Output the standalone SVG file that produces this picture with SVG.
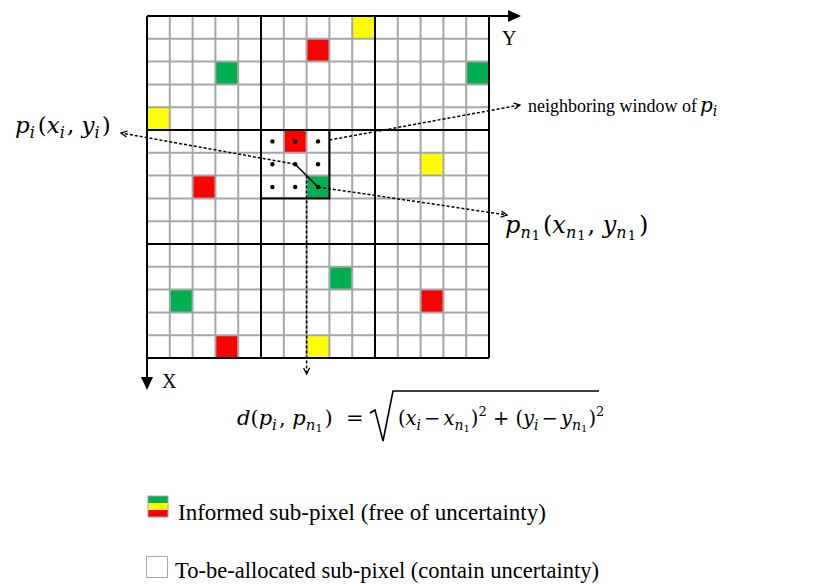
<svg xmlns="http://www.w3.org/2000/svg" width="820" height="584" viewBox="0 0 820 584">
<defs>
<style>
.gl{stroke:#a6a6a6;stroke-width:2;fill:none}
.bl{stroke:#000;stroke-width:2;fill:none}
.r{fill:#ff0000}.g{fill:#00b050}.y{fill:#ffff00}
.dash{stroke:#000;stroke-width:1.5;stroke-dasharray:3 2;fill:none}
.t{font-family:"Liberation Serif","Times New Roman",serif;fill:#000}
.m{font-family:"DejaVu Serif","Liberation Serif",serif;fill:#000}
.i{font-style:italic}
.dot{fill:#000}
</style>
<marker id="oa" viewBox="0 0 8 8" refX="7" refY="4" markerWidth="8" markerHeight="8" markerUnits="userSpaceOnUse" orient="auto"><path d="M1,1 L7,4 L1,7" fill="none" stroke="#000" stroke-width="1.3"/></marker>
</defs>
<rect width="820" height="584" fill="#fff"/>
<g id="cells">
<rect class="r" x="306.6" y="38.8" width="22.8" height="22.8"/>
<rect class="r" x="283.8" y="130" width="22.8" height="22.8"/>
<rect class="r" x="192.6" y="175.6" width="22.8" height="22.8"/>
<rect class="r" x="420.6" y="289.6" width="22.8" height="22.8"/>
<rect class="r" x="215.4" y="335.2" width="22.8" height="22.8"/>
<rect class="g" x="215.4" y="61.6" width="22.8" height="22.8"/>
<rect class="g" x="466.2" y="61.6" width="22.8" height="22.8"/>
<rect class="g" x="306.6" y="175.6" width="22.8" height="22.8"/>
<rect class="g" x="169.8" y="289.6" width="22.8" height="22.8"/>
<rect class="g" x="329.4" y="266.8" width="22.8" height="22.8"/>
<rect class="y" x="147" y="107.2" width="22.8" height="22.8"/>
<rect class="y" x="352.2" y="16" width="22.8" height="22.8"/>
<rect class="y" x="420.6" y="152.8" width="22.8" height="22.8"/>
<rect class="y" x="306.6" y="335.2" width="22.8" height="22.8"/>
</g>
<g id="grid">
<path class="gl" d="M169.8,16V358M192.6,16V358M215.4,16V358M238.2,16V358M283.8,16V358M306.6,16V358M329.4,16V358M352.2,16V358M397.8,16V358M420.6,16V358M443.4,16V358M466.2,16V358M147,38.8H489M147,61.6H489M147,84.4H489M147,107.2H489M147,152.8H489M147,175.6H489M147,198.4H489M147,221.2H489M147,266.8H489M147,289.6H489M147,312.4H489M147,335.2H489"/>
<path class="bl" d="M261,16V358M375,16V358M489,16V358M147,130H489M147,244H489M147,358H489"/>
</g>
<g id="axes">
<path class="bl" d="M147,16H510M147,16V378"/>
<polygon points="508,10 521,16 508,22" fill="#000"/>
<polygon points="141,377 147,390 153,377" fill="#000"/>
<text class="t" x="502" y="45" font-size="20">Y</text>
<text class="t" x="162" y="388" font-size="20">X</text>
</g>
<g id="window">
<rect class="bl" x="261" y="130" width="68.4" height="68.4"/>
<circle class="dot" cx="272.4" cy="141.4" r="2.2"/><circle class="dot" cx="295.2" cy="141.4" r="2.2"/><circle class="dot" cx="318" cy="141.4" r="2.2"/>
<circle class="dot" cx="272.4" cy="164.2" r="2.2"/><circle class="dot" cx="295.2" cy="164.2" r="2.2"/><circle class="dot" cx="318" cy="164.2" r="2.2"/>
<circle class="dot" cx="272.4" cy="187" r="2.2"/><circle class="dot" cx="295.2" cy="187" r="2.2"/><circle class="dot" cx="318" cy="187" r="2.2"/>
</g>
<g id="connectors">
<path d="M295.2,164.2L318,187" stroke="#000" stroke-width="1.5"/>
<path class="dash" d="M295.2,164.2L121,133" marker-end="url(#oa)"/>
<path class="dash" d="M329.4,140L520,105" marker-end="url(#oa)"/>
<path class="dash" d="M318,187L507,215" marker-end="url(#oa)"/>
<path class="dash" d="M306.6,175.6V374" marker-end="url(#oa)"/>
</g>
<g id="label-pi">
<text class="m" x="15" y="133" font-size="23"><tspan class="i">p</tspan><tspan class="i" font-size="16" dy="5">i</tspan><tspan dy="-5" dx="3">(</tspan><tspan class="i">x</tspan><tspan class="i" font-size="16" dy="5">i</tspan><tspan dy="-5" dx="2">, </tspan><tspan class="i">y</tspan><tspan class="i" font-size="16" dy="5">i</tspan><tspan dy="-5" dx="2">)</tspan></text>
</g>
<g id="label-window">
<text class="t" x="528" y="112" font-size="18">neighboring window of</text>
<text class="m" x="700" y="112" font-size="20"><tspan class="i">p</tspan><tspan class="i" font-size="14" dy="4">i</tspan></text>
</g>
<g id="label-pn1">
<text class="m" x="505" y="233" font-size="24"><tspan class="i">p</tspan><tspan class="i" font-size="16" dy="5">n</tspan><tspan font-size="13" dy="2" dx="1">1</tspan><tspan dy="-7" dx="3">(</tspan><tspan class="i">x</tspan><tspan class="i" font-size="16" dy="5">n</tspan><tspan font-size="13" dy="2" dx="1">1</tspan><tspan dy="-7" dx="2">, </tspan><tspan class="i">y</tspan><tspan class="i" font-size="16" dy="5">n</tspan><tspan font-size="13" dy="2" dx="1">1</tspan><tspan dy="-7" dx="3">)</tspan></text>
</g>
<g id="formula">
<text class="m" x="237" y="425" font-size="21"><tspan class="i">d</tspan>(<tspan class="i">p</tspan><tspan class="i" font-size="15" dy="5">i</tspan><tspan dy="-5" dx="2">, </tspan><tspan class="i">p</tspan><tspan class="i" font-size="15" dy="5">n</tspan><tspan font-size="11" dy="2">1</tspan><tspan dy="-7" dx="2">)</tspan><tspan x="346">=</tspan></text>
<path d="M370,413 L375,410 L383,441 L393,391 H599" fill="none" stroke="#000" stroke-width="1.6"/>
<text class="m" x="398" y="425" font-size="19.5">(<tspan class="i">x</tspan><tspan class="i" font-size="14" dy="5">i</tspan><tspan dy="-5" dx="3">−</tspan><tspan class="i" dx="3">x</tspan><tspan class="i" font-size="14" dy="5">n</tspan><tspan font-size="10" dy="2">1</tspan><tspan dy="-7" dx="1">)</tspan><tspan font-size="13" dy="-9">2</tspan><tspan dy="9"> + (</tspan><tspan class="i">y</tspan><tspan class="i" font-size="14" dy="5">i</tspan><tspan dy="-5" dx="3">−</tspan><tspan class="i" dx="3">y</tspan><tspan class="i" font-size="14" dy="5">n</tspan><tspan font-size="10" dy="2">1</tspan><tspan dy="-7" dx="1">)</tspan><tspan font-size="13" dy="-9">2</tspan></text>
</g>
<g id="legend">
<rect x="148" y="496" width="20" height="7" fill="#00b050"/>
<rect x="148" y="503" width="20" height="7" fill="#ffff00"/>
<rect x="148" y="510" width="20" height="7" fill="#ff0000"/>
<rect x="148" y="496" width="20" height="21" fill="none" stroke="#a6a6a6" stroke-width="1"/>
<text class="t" x="178" y="520" font-size="23">Informed sub-pixel (free of uncertainty)</text>
<rect x="146.5" y="556.5" width="21" height="21" fill="#fff" stroke="#a6a6a6" stroke-width="1"/>
<text class="t" x="175" y="578" font-size="22.5">To-be-allocated sub-pixel (contain uncertainty)</text>
</g>
</svg>
